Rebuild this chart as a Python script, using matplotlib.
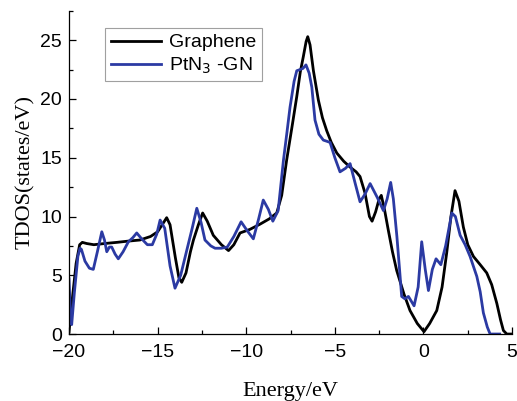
import matplotlib
matplotlib.use("Agg")
import matplotlib.pyplot as plt
from matplotlib.ticker import MultipleLocator

# Graphene TDOS
e_gr = [-20.0, -19.85, -19.6, -19.4, -19.25, -19.0, -18.6, -18.0, -17.3, -16.7, -16.0,
        -15.4, -15.0, -14.7, -14.49, -14.3, -14.0, -13.8, -13.64, -13.4, -13.15, -12.98,
        -12.7, -12.46, -12.2, -11.86, -11.4, -11.0, -10.7, -10.35, -9.8, -9.22, -8.7,
        -8.28, -8.0, -7.72, -7.4, -7.15, -6.95, -6.78, -6.62, -6.53, -6.4, -6.21, -5.93,
        -5.7, -5.46, -5.2, -4.89, -4.5, -4.14, -3.8, -3.58, -3.3, -3.05, -2.9, -2.7,
        -2.5, -2.38, -2.2, -1.98, -1.75, -1.51, -1.1, -0.76, -0.35, 0.03, 0.35, 0.75,
        1.05, 1.31, 1.55, 1.78, 2.0, 2.25, 2.5, 2.82, 3.2, 3.57, 3.85, 4.14, 4.35, 4.51,
        4.7, 5.0]
tdos_gr = [0.2, 2.5, 6.0, 7.6, 7.8, 7.7, 7.6, 7.7, 7.8, 7.9, 8.0,
           8.3, 8.7, 9.4, 9.9, 9.3, 6.5, 4.8, 4.4, 5.2, 7.0, 8.0,
           9.3, 10.3, 9.6, 8.4, 7.6, 7.1, 7.6, 8.6, 8.9, 9.35, 9.8,
           10.3, 11.8, 14.8, 17.8, 20.2, 22.3, 23.6, 24.9, 25.3, 24.6, 22.4, 19.9,
           18.4, 17.3, 16.3, 15.4, 14.7, 14.2, 13.8, 13.4, 12.0, 10.0, 9.6, 10.4,
           11.5, 11.8, 10.6, 8.8, 7.0, 5.4, 3.4, 2.0, 0.9, 0.2, 0.9, 2.0,
           4.0, 6.9, 10.0, 12.2, 11.3, 9.1, 7.6, 6.6, 5.9, 5.2, 4.2, 2.6, 1.2, 0.3,
           0.0, 0.0]

# PtN3-GN TDOS
e_pt = [-20.0, -19.93, -19.85, -19.7, -19.5, -19.38, -19.3, -19.1, -18.85, -18.63,
        -18.4, -18.15, -18.0, -17.87, -17.72, -17.59, -17.4, -17.22, -16.95, -16.65,
        -16.4, -16.18, -15.9, -15.58, -15.3, -15.05, -14.86, -14.6, -14.3, -14.02,
        -13.7, -13.36, -13.05, -12.79, -12.55, -12.33, -12.0, -11.76, -11.4, -11.07,
        -10.7, -10.29, -9.95, -9.6, -9.3, -9.04, -8.75, -8.5, -8.2, -7.9, -7.7,
        -7.53, -7.3, -7.15, -6.97, -6.8, -6.63, -6.45, -6.3, -6.12, -5.9, -5.65,
        -5.45, -5.27, -5.0, -4.71, -4.4, -4.14, -3.85, -3.58, -3.3, -3.01, -2.6,
        -2.26, -2.05, -1.85, -1.7, -1.5, -1.35, -1.23, -1.05, -0.85, -0.53, -0.3,
        -0.1, 0.1, 0.28, 0.5, 0.71, 0.98, 1.25, 1.6, 1.8, 2.07, 2.35, 2.63, 3.01,
        3.2, 3.38, 3.6, 3.76, 4.0, 4.3]
tdos_pt = [4.7, 2.0, 0.8, 3.5, 6.6, 7.3, 7.2, 6.2, 5.6, 5.5,
           7.0, 8.7, 8.0, 7.0, 7.4, 7.4, 6.8, 6.4, 7.0, 7.85,
           8.2, 8.6, 8.1, 7.6, 7.6, 8.5, 9.7, 9.0, 5.8, 3.9,
           5.0, 7.1, 9.0, 10.7, 9.5, 8.0, 7.5, 7.3, 7.3, 7.4,
           8.3, 9.55, 8.8, 8.1, 9.8, 11.4, 10.6, 9.6, 10.5, 14.8, 17.2,
           19.3, 21.5, 22.4, 22.5, 22.6, 22.9, 22.2, 21.0, 18.2, 17.0, 16.5,
           16.4, 16.3, 15.0, 13.8, 14.1, 14.5, 12.8, 11.25, 11.9, 12.8, 11.6,
           10.5, 11.5, 12.9, 11.5, 8.3, 5.5, 3.2, 3.0, 3.2, 2.4, 4.0,
           7.85, 5.5, 3.7, 5.5, 6.4, 5.9, 7.5, 10.3, 10.0, 8.4, 7.6, 6.6, 4.9,
           3.6, 1.8, 0.6, 0.0, 0.0, 0.0]

x_ticks = [-20, -15, -10, -5, 0, 5]
y_ticks = [0, 5, 10, 15, 20, 25]

fig = plt.figure(figsize=(5.17, 4.01), dpi=100)
ax = fig.add_axes([0.1335, 0.167, 0.857, 0.806])

ax.plot(e_gr, tdos_gr, color="black", lw=2.0, label="Graphene")
ax.plot(e_pt, tdos_pt, color="#2b3aa3", lw=2.0, label="PtN$_3$ -GN")

ax.set_xlim(-20, 5)
ax.set_ylim(0, 27.5)
ax.set_xticks(x_ticks)
ax.set_yticks(y_ticks)
ax.xaxis.set_minor_locator(MultipleLocator(2.5))
ax.yaxis.set_minor_locator(MultipleLocator(2.5))
ax.tick_params(which="major", direction="in", length=5, width=0.9,
               labelsize=14)
ax.tick_params(axis="x", which="major", pad=7)
ax.tick_params(axis="y", which="major", pad=5)
ax.tick_params(which="minor", direction="in", length=3, width=0.9)
for lab in ax.get_xticklabels() + ax.get_yticklabels():
    lab.set_fontfamily("Liberation Sans")
ax.spines["top"].set_visible(False)
ax.spines["right"].set_visible(False)
for s in ("left", "bottom"):
    ax.spines[s].set_linewidth(0.9)

ax.set_xlabel("Energy/eV", fontfamily="Liberation Serif", fontsize=16, labelpad=15)
ax.set_ylabel("TDOS(states/eV)", fontfamily="Liberation Serif", fontsize=16, labelpad=4)

leg = ax.legend(loc="upper left", bbox_to_anchor=(0.059, 0.977),
                prop={"family": "Liberation Sans", "size": 14},
                frameon=True, fancybox=False, edgecolor="#888888",
                handlelength=2.6, borderpad=0.3, labelspacing=0.2, handletextpad=0.4)
leg.get_frame().set_linewidth(0.8)

fig.savefig("out.png", dpi=100)
